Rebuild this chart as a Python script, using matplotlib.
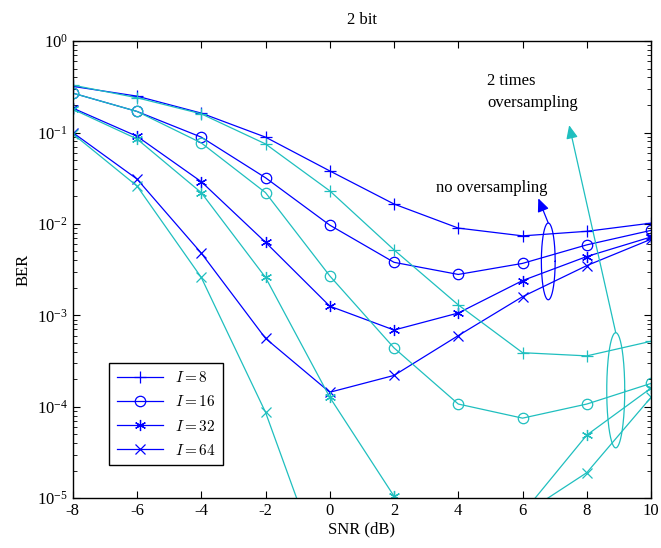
import numpy as np
import matplotlib
matplotlib.use("Agg")
import matplotlib.pyplot as plt

plt.rcParams['font.family'] = ['Liberation Serif', 'DejaVu Serif']
plt.rcParams['mathtext.fontset'] = 'stix'

# --- data ---
snr = [-8, -6, -4, -2, 0, 2, 4, 6, 8, 10]
labels = ["$I = 8$", "$I = 16$", "$I = 32$", "$I = 64$"]
markers = ["+", "o", (6, 2, 0), "x"]
msizes = [9, 7.5, 8, 6.5]

# no oversampling (blue)
ber_no = [
    [0.32, 0.25, 0.163, 0.089, 0.038, 0.0165, 0.0090, 0.0074, 0.0083, 0.0102],
    [0.27, 0.17, 0.089, 0.032, 0.0097, 0.0038, 0.0028, 0.0037, 0.0059, 0.0085],
    [0.185, 0.091, 0.029, 0.0063, 1.26e-3, 6.9e-4, 1.06e-3, 2.4e-3, 4.4e-3, 7.2e-3],
    [0.10, 0.031, 0.0048, 5.6e-4, 1.44e-4, 2.2e-4, 6.0e-4, 1.6e-3, 3.5e-3, 6.8e-3],
]
# 2 times oversampling (cyan)
ber_os = [
    [0.33, 0.24, 0.16, 0.075, 0.023, 0.0052, 0.0013, 3.9e-4, 3.6e-4, 5.2e-4],
    [0.27, 0.17, 0.077, 0.022, 0.0027, 4.4e-4, 1.07e-4, 7.5e-5, 1.07e-4, 1.8e-4],
    [0.18, 0.085, 0.022, 0.0026, 1.27e-4, 1.05e-5, 3e-6, 6.8e-6, 4.9e-5, 1.6e-4],
    [0.097, 0.026, 0.0026, 8.7e-5, 1e-6, 3e-7, 1e-6, 6.6e-6, 1.9e-5, 1.27e-4],
]

blue = "#0000ff"
cyan = "#1fbfbf"

fig = plt.figure(figsize=(6.61, 5.48), dpi=100)
ax = fig.add_axes([0.110, 0.091, 0.875, 0.834])

for i in range(4):
    ax.semilogy(snr, ber_no[i], color=blue, marker=markers[i], lw=0.9,
                markersize=msizes[i], markerfacecolor="none", markeredgewidth=0.9,
                label=labels[i])
for i in range(4):
    ax.semilogy(snr, ber_os[i], color=cyan, marker=markers[i], lw=0.9,
                markersize=msizes[i], markerfacecolor="none", markeredgewidth=0.9)

ax.set_xlim(-8, 10)
ax.set_ylim(1e-5, 1)
ax.set_xticks(snr)
ax.set_xticklabels([str(s) for s in snr])
ax.tick_params(which="both", direction="in", top=True, right=True, labelsize=12)
ax.tick_params(which="major", length=5)
ax.tick_params(which="minor", length=3)
for s in ax.spines.values():
    s.set_linewidth(1.0)

ax.set_xlabel("SNR (dB)", fontsize=12, labelpad=2)
ax.set_ylabel("BER", fontsize=12, labelpad=4)
ax.set_title("2 bit", fontsize=12, pad=12)

# ellipses drawn in (x, log10 y) space
def ellipse(cx, cy_log, w, h_log, color):
    t = np.linspace(0, 2 * np.pi, 200)
    ax.plot(cx + w / 2 * np.cos(t), 10 ** (cy_log + h_log / 2 * np.sin(t)),
            color=color, lw=0.9)

ellipse(6.8, -2.41, 0.43, 0.84, blue)
ellipse(8.9, -3.82, 0.56, 1.26, cyan)

ax.annotate("", xy=(6.49, 10 ** -1.72), xytext=(6.8, 10 ** -1.99),
            arrowprops=dict(arrowstyle="-|>,head_length=0.8,head_width=0.35",
                            color=blue, lw=0.9, shrinkA=0, shrinkB=0))
ax.annotate("", xy=(7.45, 10 ** -0.92), xytext=(8.9, 10 ** -3.19),
            arrowprops=dict(arrowstyle="-|>,head_length=0.8,head_width=0.35",
                            color=cyan, lw=0.9, shrinkA=0, shrinkB=0))

ax.text(3.3, 10 ** -1.61, "no oversampling", fontsize=12, va="center", ha="left")
ax.text(4.9, 10 ** -0.56, "2 times\noversampling", fontsize=12, va="center",
        ha="left", linespacing=1.5)

leg = ax.legend(loc="lower left", bbox_to_anchor=(0.05, 0.055),
                prop=dict(size=11, math_fontfamily="cm"), fancybox=False,
                edgecolor="black", framealpha=1, handlelength=3,
                borderpad=0.5, labelspacing=0.6)
leg.get_frame().set_linewidth(1.0)

fig.savefig("out.png", dpi=100)
